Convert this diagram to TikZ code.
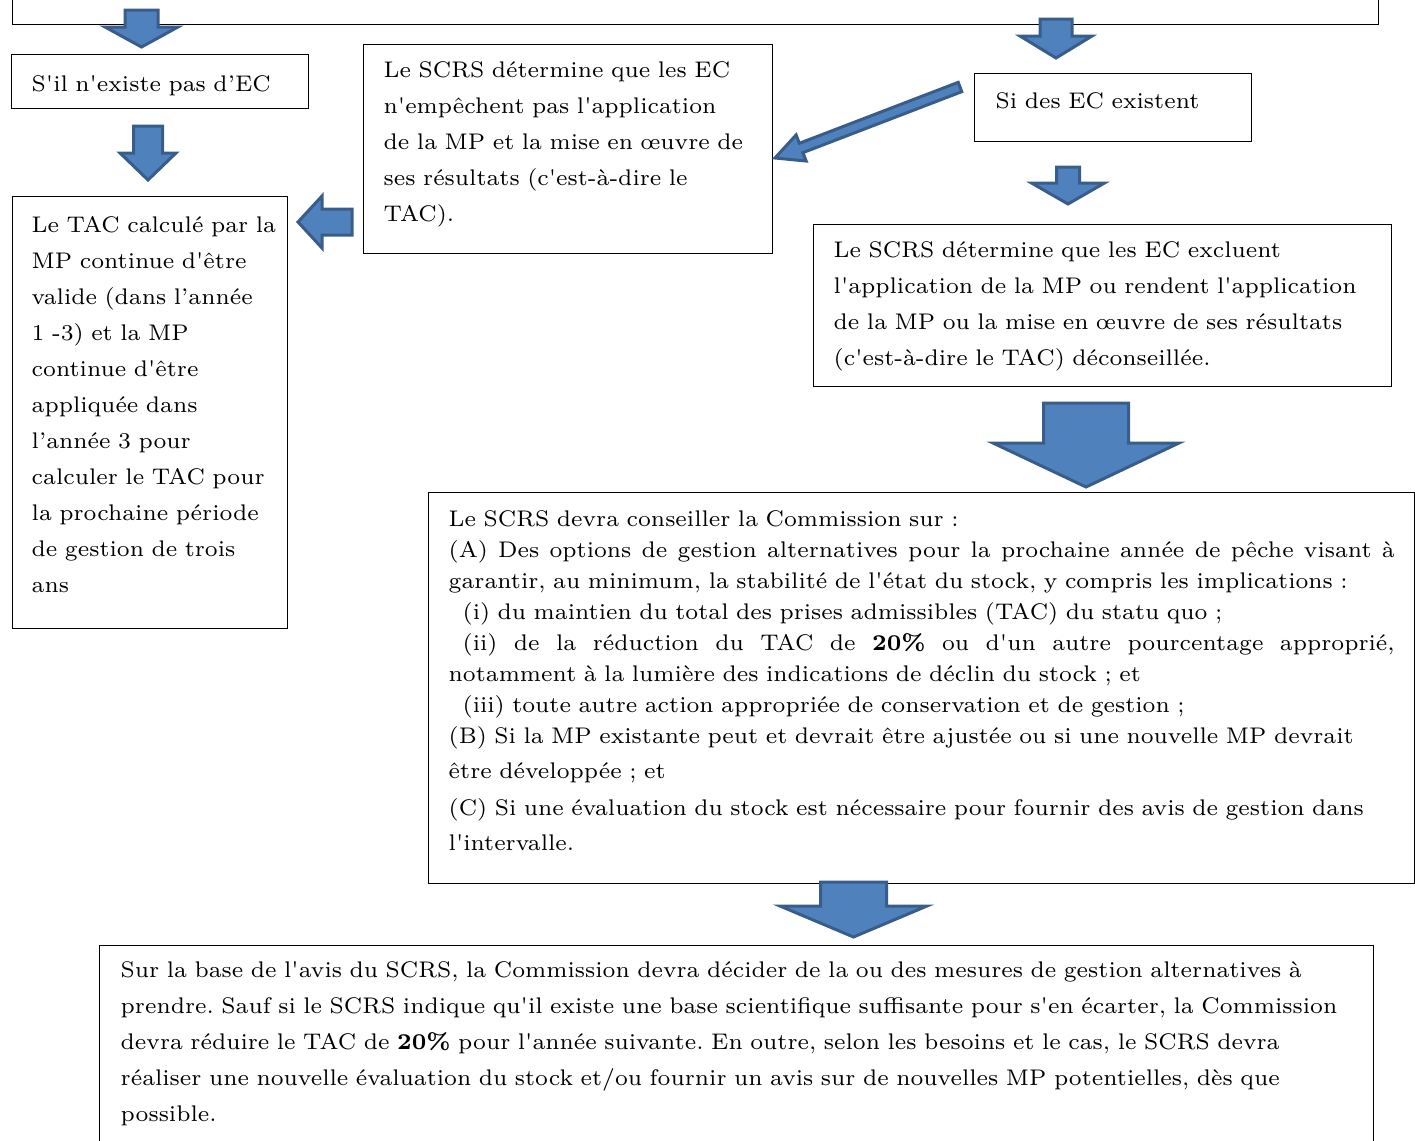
\documentclass[tikz,border=0pt]{standalone}
\usepackage{fontspec}
\setmainfont{lmroman7-regular.otf}[BoldFont=lmroman7-bold.otf, Ligatures=TeXOff]
\usetikzlibrary{calc}
\frenchspacing

\definecolor{arrowfill}{HTML}{4F81BD}
\definecolor{arrowline}{HTML}{385D8A}
\newcommand{\boxfont}{\fontsize{11.3pt}{18pt}\selectfont}
\newcommand{\bigboxfont}{\fontsize{11.3pt}{15.5pt}\selectfont}
\newcommand{\fullline}[1]{\leavevmode\hbox to 473pt{\spaceskip=0.3333em plus 1fil\xspaceskip=0.3333em plus 1fil\relax #1}}
\newcommand{\blockarrow}[5]{%
  \coordinate (hb) at ($(#2)!#5!(#1)$);
  \draw[blockarrow] ($(#1)!#3!90:(#2)$) -- ($(hb)!#3!90:(#2)$) -- ($(hb)!#4!90:(#2)$) -- (#2)
    -- ($(hb)!#4!-90:(#2)$) -- ($(hb)!#3!-90:(#2)$) -- ($(#1)!#3!-90:(#2)$) -- cycle;
}

\begin{document}
\begin{tikzpicture}
[x=0.5pt, y=-0.5pt,
box/.style={draw=black, line width=0.7pt, anchor=north west, inner ysep=0pt, inner xsep=10pt, font=\boxfont,
  execute at begin node={\rightskip=0pt minus 30pt\hyphenpenalty=10000\relax}},
blockarrow/.style={fill=arrowfill, draw=arrowline, line width=1.5pt, line join=miter}]
\useasboundingbox (0,0) rectangle (1415,1141);
\clip (0,0) rectangle (1415,1141);

\node[box, text width=663pt, text height=0pt, text depth=42pt]	(top) at (12,-60) {};
\node[box, text width=128.5pt, text height=18.5pt, text depth=8.5pt]	(noec) at (11,54) {S'il n'existe pas d’EC};
\node[box, inner xsep=9.5pt, text width=118.5pt, text height=18pt, text depth=198pt]	(tac) at (12,196) {Le TAC calculé par la\\ MP continue d'être\\ valide (dans l’année\\ 1 -3) et la MP\\ continue d'être\\ appliquée dans\\ l’année 3 pour\\ calculer le TAC pour\\ la prochaine période\\ de gestion de trois\\ ans};
\node[box, text width=184.5pt, text height=16.5pt, text depth=88pt]	(keep) at (363,44) {Le SCRS détermine que les EC\\ n'empêchent pas l'application\\ de la MP et la mise en œuvre de\\ ses résultats (c'est-à-dire le\\ TAC).};
\node[box, inner xsep=10.5pt, text width=117.5pt, text height=17.5pt, text depth=16.5pt]	(yesec) at (974,73) {Si des EC existent};
\node[box, text width=269pt, text height=16.5pt, text depth=64.5pt]	(exclude) at (813,224) {Le SCRS détermine que les EC excluent\\ l'application de la MP ou rendent l'application\\ de la MP ou la mise en œuvre de ses résultats\\ (c'est-à-dire le TAC) déconseillée.};
\node[box, font=\bigboxfont, text width=473pt, text height=17pt, text depth=178.5pt]	(advice) at (428,492) {Le SCRS devra conseiller la Commission sur :\\
\fullline{(A) Des options de gestion alternatives pour la prochaine année de pêche visant à}\\
garantir, au minimum, la stabilité de l'état du stock, y compris les implications :\\
\hspace*{7pt}(i) du maintien du total des prises admissibles (TAC) du statu quo ;\\
\fullline{\hspace*{7pt}(ii) de la réduction du TAC de \textbf{20\%} ou d'un autre pourcentage approprié,}\\
notamment à la lumière des indications de déclin du stock ; et\\
\hspace*{7pt}(iii) toute autre action appropriée de conservation et de gestion ;\\
(B) Si la MP existante peut et devrait être ajustée ou si une nouvelle MP devrait\\[2pt]
être développée ; et\\[3pt]
(C) Si une évaluation du stock est nécessaire pour fournir des avis de gestion dans\\[2pt]
l'intervalle.};
\node[box, inner xsep=10.5pt, text width=616pt, text height=16pt, text depth=100pt]	(decide) at (99,945) {Sur la base de l'avis du SCRS, la Commission devra décider de la ou des mesures de gestion alternatives à\\ prendre. Sauf si le SCRS indique qu'il existe une base scientifique suffisante pour s'en écarter, la Commission\\ devra réduire le TAC de \textbf{20\%} pour l'année suivante. En outre, selon les besoins et le cas, le SCRS devra\\ réaliser une nouvelle évaluation du stock et/ou fournir un avis sur de nouvelles MP potentielles, dès que\\ possible.};

\coordinate (a1s) at (141.5,10);	\coordinate (a1e) at (141.5,47);
\coordinate (a2s) at (148,126);	\coordinate (a2e) at (148,180);
\coordinate (a3s) at (1056,19);	\coordinate (a3e) at (1056,58);
\coordinate (a4s) at (1068,167);	\coordinate (a4e) at (1068,204);
\coordinate (a5s) at (1086,403);	\coordinate (a5e) at (1086,487);
\coordinate (a6s) at (853.5,882);	\coordinate (a6e) at (853.5,937);
\coordinate (a7s) at (352,222);	\coordinate (a7e) at (298,222);
\coordinate (a8s) at (960,87);	\coordinate (a8e) at (775,158);

\blockarrow{a1s}{a1e}{8.25pt}{18.25pt}{10pt}
\blockarrow{a2s}{a2e}{7.25pt}{14pt}{13.5pt}
\blockarrow{a3s}{a3e}{8pt}{18pt}{11pt}
\blockarrow{a4s}{a4e}{5.75pt}{18.25pt}{10.5pt}
\blockarrow{a5s}{a5e}{21.25pt}{46.5pt}{22pt}
\blockarrow{a6s}{a6e}{16.5pt}{36.75pt}{15.5pt}
\blockarrow{a7s}{a7e}{6.5pt}{13pt}{12pt}
\blockarrow{a8s}{a8e}{2.5pt}{7pt}{14pt}

\end{tikzpicture}
\end{document}
